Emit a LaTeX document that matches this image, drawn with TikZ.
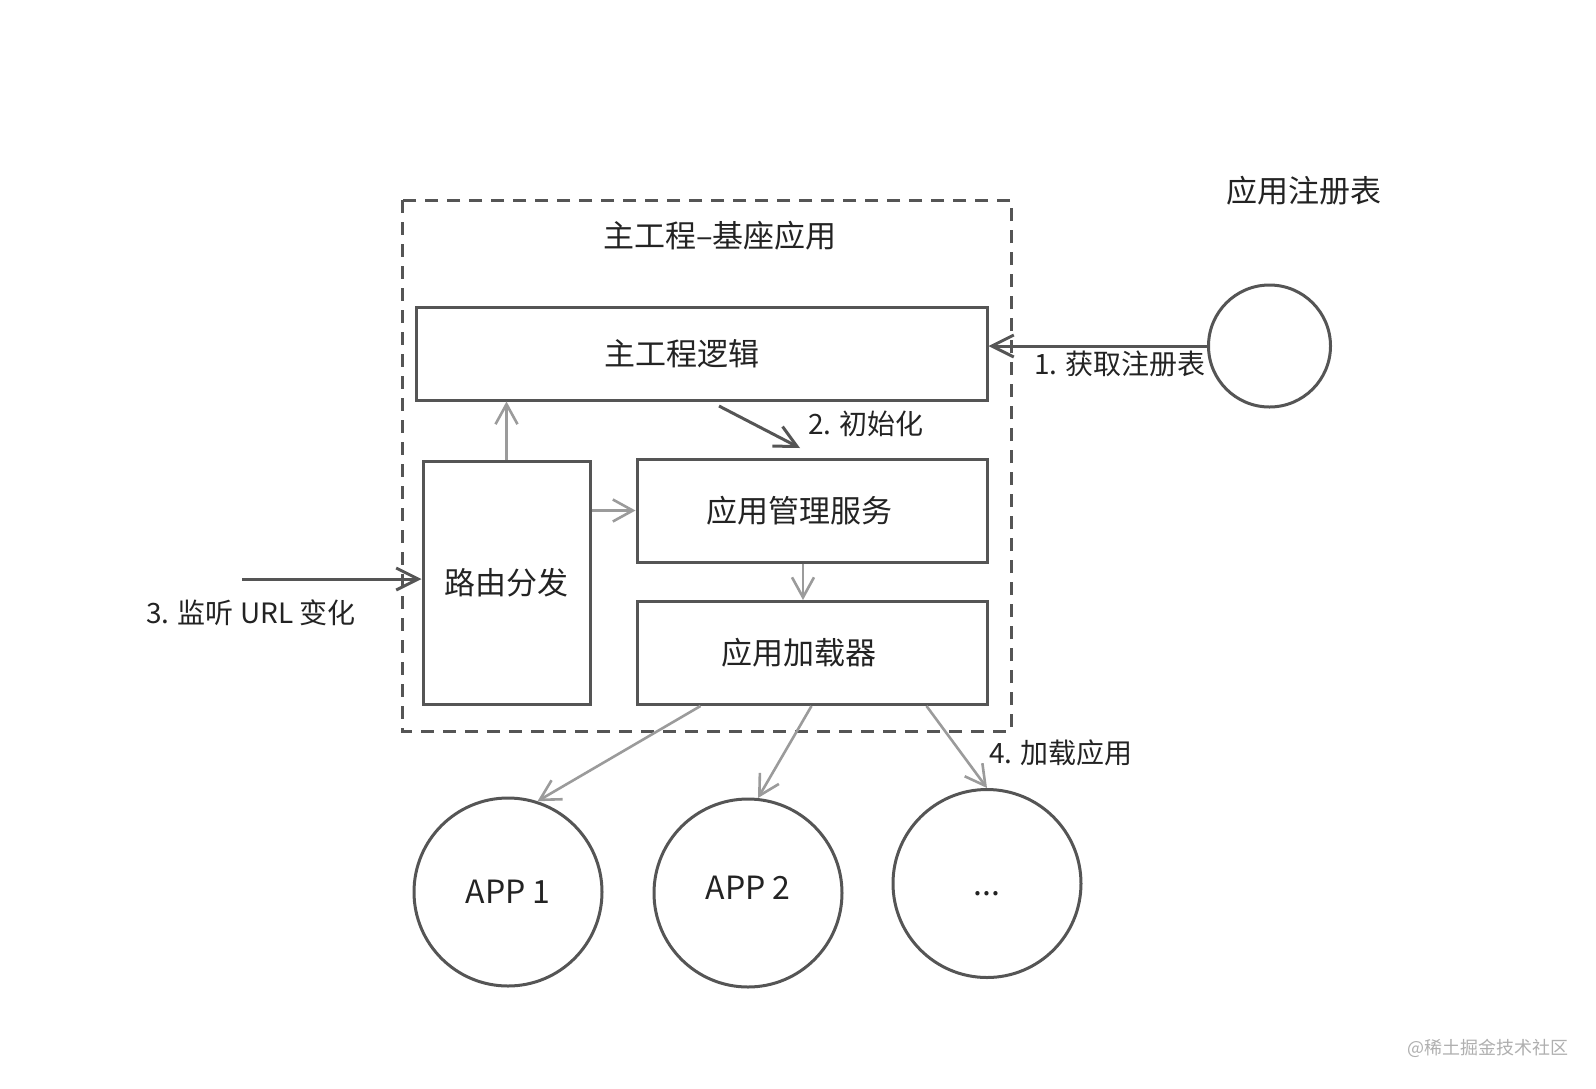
\documentclass[tikz,border=0pt]{standalone}
\usepackage{fontspec}
\setmainfont{Noto Sans CJK SC}
\usepackage{tikz}
\usetikzlibrary{arrows.meta}
\definecolor{linegray}{RGB}{85, 85, 85}
\definecolor{arrowgray}{RGB}{155, 155, 155}
\definecolor{textgray}{RGB}{35, 35, 35}
\definecolor{markgray}{RGB}{175, 175, 175}

\begin{document}
\begin{tikzpicture}[x=0.5pt, y=-0.5pt,
    box/.style={draw=linegray, line width=1.5pt, inner sep=0pt, text=textgray, font=\fontsize{15.5}{18}\selectfont},
    ring/.style={circle, draw=linegray, line width=1.5pt, inner sep=0pt, text=textgray, font=\fontsize{16}{19}\selectfont},
    steplabel/.style={text=textgray, font=\fontsize{14}{17}\selectfont},
    darkarrow/.style={draw=linegray, line width=1.5pt, -{Straight Barb[length=11pt, width=11pt]}},
    grayarrow/.style={draw=arrowgray, line width=1.3pt, -{Straight Barb[length=10pt, width=11pt]}}]
    \useasboundingbox (0,0) rectangle (1596,1088);

    % Base application frame
    \draw[linegray, line width=1.5pt, dash pattern=on 6.5pt off 4.5pt] (402,200) rectangle (1011,731);
    \node[text=textgray, font=\fontsize{15.5}{18}\selectfont] (base) at (720,236) {主工程–基座应用};

    % Inner blocks
    \node[box, minimum width=285.5pt, minimum height=46.5pt] (main) at (701.5,353.5) {主工程逻辑\rule{20pt}{0pt}};
    \node[box, minimum width=83.5pt, minimum height=121.5pt] (route) at (506.5,582.5) {路由分发};
    \node[box, minimum width=175pt, minimum height=51.5pt] (mgmt) at (812,510.5) {应用管理服务\rule{13pt}{0pt}};
    \node[box, minimum width=175pt, minimum height=51.5pt] (loader) at (812,653) {应用加载器\rule{13pt}{0pt}};

    % Registry
    \node[text=textgray, font=\fontsize{15.5}{18}\selectfont] (regname) at (1304,191) {应用注册表};
    \node[ring, minimum size=61pt] (reg) at (1269.5,346) {};
    \draw[darkarrow] (reg.west) -- (reg.west -| main.east);
    \node[steplabel] (step1) at (1120,364) {1. 获取注册表};

    % Init
    \coordinate (inita) at (719,406);
    \coordinate (initb) at (800,448);
    \draw[darkarrow] (inita) -- (initb);
    \node[steplabel] (step2) at (866,424) {2. 初始化};

    % Inner gray links
    \draw[grayarrow] (route.north) -- (route.north |- main.south);
    \draw[grayarrow] (route.east |- mgmt.west) -- (mgmt.west);
    \draw[grayarrow] ([xshift=-4.5pt]mgmt.south) -- ([xshift=-4.5pt]loader.north);

    % URL listening
    \coordinate (url) at (242,579);
    \draw[darkarrow] (url) -- (url -| route.west);
    \node[steplabel] (step3) at (251,613) {3. 监听 URL 变化};

    % Sub applications
    \node[ring, minimum size=94pt] (app1) at (508,892) {APP 1};
    \node[ring, minimum size=94pt] (app2) at (748,893) {\raisebox{5pt}{APP 2}};
    \node[ring, minimum size=94pt] (dots) at (987,883.5) {\raisebox{-12pt}{...}};
    \draw[grayarrow] ([xshift=32.5pt]loader.south west) -- (app1.72);
    \draw[grayarrow] ([xshift=88pt]loader.south west) -- (app2.84);
    \draw[grayarrow] ([xshift=145.5pt]loader.south west) -- (dots.90);
    \node[steplabel] (step4) at (1061,753) {4. 加载应用};

    % Watermark
    \node[text=markgray, font=\fontsize{9}{11}\selectfont] (mark) at (1488,1048) {@稀土掘金技术社区};
\end{tikzpicture}
\end{document}
